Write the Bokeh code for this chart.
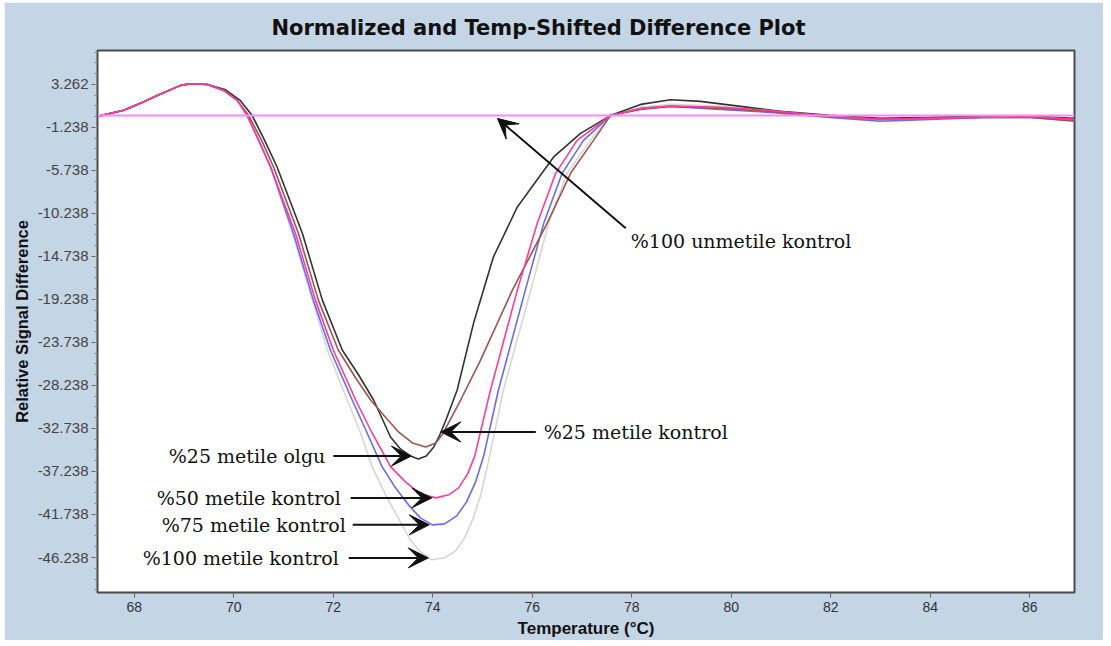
import numpy as np
from bokeh.plotting import figure
from bokeh.models import FixedTicker, Arrow, VeeHead, Label, Range1d
from bokeh.embed import file_html
from bokeh.resources import INLINE

# Temperature (°C) and relative signal difference for each sample
olgu25_T = [67.26, 67.79, 68.12, 68.46, 68.93, 69.13, 69.47, 69.82, 70.13, 70.37, 70.62, 70.87,
            71.38, 71.78, 72.18, 72.51, 72.81, 73.00, 73.15, 73.35, 73.55, 73.71, 73.87, 74.02,
            74.14, 74.28, 74.49, 74.82, 75.22, 75.70, 76.43, 76.97, 77.57, 78.18, 78.78, 79.38,
            80.19, 80.99, 81.98, 83.00, 84.00, 85.01, 86.02, 86.90]
olgu25_V = [-0.08, 0.55, 1.28, 2.11, 3.16, 3.33, 3.26, 2.73, 1.59, 0.00, -2.59, -5.38,
            -12.34, -19.31, -24.53, -27.14, -29.76, -31.90, -33.63, -34.88, -35.61, -35.92, -35.61, -34.67,
            -33.42, -31.64, -28.71, -21.71, -14.78, -9.56, -4.33, -1.86, 0.00, 1.17, 1.66, 1.49,
            0.96, 0.44, 0.02, -0.29, -0.19, -0.08, -0.08, -0.29]

kontrol25_T = [67.26, 67.79, 68.12, 68.46, 68.93, 69.13, 69.47, 69.80, 70.07, 70.30, 70.56, 70.80,
               71.30, 71.70, 72.10, 72.45, 72.75, 73.01, 73.31, 73.59, 73.86, 74.06, 74.20, 74.56,
               74.96, 75.60, 76.30, 76.77, 77.23, 77.57, 78.18, 78.78, 79.79, 80.79, 81.98, 83.00,
               84.00, 85.01, 86.02, 86.90]
kontrol25_V = [-0.08, 0.55, 1.28, 2.11, 3.16, 3.33, 3.26, 2.63, 1.59, 0.00, -2.59, -5.38,
               -12.34, -19.31, -24.53, -27.46, -29.76, -31.33, -33.10, -34.25, -34.67, -34.25, -33.31, -29.76,
               -25.58, -18.26, -11.26, -6.04, -2.59, 0.00, 0.65, 0.96, 0.75, 0.44, -0.08, -0.40,
               -0.29, -0.19, -0.19, -0.60]

kontrol50_T = [67.26, 67.79, 68.12, 68.46, 68.93, 69.13, 69.47, 69.80, 70.07, 70.27, 70.50, 70.74,
               71.24, 71.64, 72.00, 72.45, 72.78, 73.15, 73.45, 73.75, 74.06, 74.32, 74.52, 74.70,
               74.84, 75.16, 75.70, 76.10, 76.47, 76.90, 77.57, 78.18, 78.78, 79.79, 80.79, 81.98,
               83.00, 84.00, 85.01, 86.02, 86.90]
kontrol50_V = [-0.08, 0.55, 1.28, 2.11, 3.16, 3.33, 3.26, 2.63, 1.59, 0.00, -2.59, -5.38,
               -12.34, -19.31, -24.53, -29.76, -33.21, -36.73, -38.33, -39.58, -40.00, -39.68, -38.95, -37.49,
               -35.68, -28.71, -18.26, -11.26, -6.04, -2.59, 0.00, 0.75, 1.01, 0.86, 0.54, -0.08,
               -0.40, -0.29, -0.19, -0.08, -0.40]

kontrol75_T = [67.26, 67.79, 68.12, 68.46, 68.93, 69.13, 69.47, 69.80, 70.07, 70.27, 70.50, 70.74,
               71.20, 71.60, 71.94, 72.38, 72.68, 72.98, 73.25, 73.51, 73.75, 73.99, 74.24, 74.48,
               74.68, 74.86, 75.02, 75.32, 75.86, 76.23, 76.60, 77.03, 77.57, 78.18, 78.78, 79.79,
               80.79, 81.98, 83.00, 84.00, 85.01, 86.02, 86.90]
kontrol75_V = [-0.08, 0.55, 1.28, 2.11, 3.16, 3.33, 3.26, 2.63, 1.59, 0.00, -2.59, -5.38,
               -12.34, -19.31, -24.53, -29.76, -33.21, -36.73, -38.95, -40.73, -42.09, -42.82, -42.72, -41.88,
               -40.42, -38.33, -35.68, -28.71, -18.26, -11.26, -6.04, -2.59, 0.00, 0.75, 0.96, 0.65,
               0.33, -0.19, -0.60, -0.40, -0.19, -0.19, -0.50]

kontrol100_T = [67.26, 67.79, 68.12, 68.46, 68.93, 69.13, 69.47, 69.80, 70.07, 70.27, 70.50, 70.74,
                71.18, 71.58, 71.88, 72.28, 72.55, 72.78, 73.05, 73.35, 73.55, 73.75, 73.99, 74.24,
                74.46, 74.64, 74.80, 74.96, 75.10, 75.42, 75.97, 76.33, 76.70, 77.17, 77.57, 78.18,
                78.78, 79.79, 80.79, 81.98, 83.00, 84.00, 85.01, 86.02, 86.90]
kontrol100_V = [-0.08, 0.55, 1.28, 2.11, 3.16, 3.33, 3.26, 2.63, 1.59, 0.00, -2.59, -5.38,
                -12.34, -19.31, -24.53, -29.76, -33.21, -36.73, -39.68, -42.51, -44.39, -45.64, -46.48, -46.27,
                -45.54, -44.18, -42.30, -39.79, -36.65, -28.71, -18.26, -11.26, -6.04, -2.59, 0.00, 0.86,
                1.17, 0.96, 0.54, -0.08, -0.40, -0.29, -0.19, -0.08, -0.40]

# Unmethylated reference (the baseline every sample is subtracted from)
unmetile100_T = [67.26, 86.90]
unmetile100_V = [0.0, 0.0]

x_ticks = [68, 70, 72, 74, 76, 78, 80, 82, 84, 86]
y_ticks = [3.262, -1.238, -5.738, -10.238, -14.738, -19.238, -23.738,
           -28.238, -32.738, -37.238, -41.738, -46.238]
y_tick_labels = ["3.262", "-1.238", "-5.738", "-10.238", "-14.738", "-19.238", "-23.738",
                 "-28.238", "-32.738", "-37.238", "-41.738", "-46.238"]

PANEL = "#C4D5E6"

p = figure(width=1099, height=638,
           x_range=Range1d(67.26, 86.9), y_range=Range1d(-49.9, 6.81),
           output_backend="svg", toolbar_location=None,
           min_border_left=93, min_border_right=29, min_border_top=48, min_border_bottom=48,
           background_fill_color="white", border_fill_color=PANEL,
           outline_line_color="#4a4a4a", outline_line_width=2)
p.margin = (2, 8, 6, 4)
p.grid.visible = False

p.title.text = "Normalized and Temp-Shifted Difference Plot"
p.title.align = "left"
p.title.offset = 174
p.title.text_font = "DejaVu Sans"
p.title.text_font_size = "21px"
p.title.text_font_style = "bold"
p.title.text_color = "#111111"
p.title.standoff = 21

# x axis
p.xaxis.ticker = FixedTicker(ticks=x_ticks)
p.xaxis.axis_label = "Temperature (\u00b0C)"
p.xaxis.axis_label_text_font = "Liberation Sans"
p.xaxis.axis_label_text_font_size = "17px"
p.xaxis.axis_label_text_font_style = "bold"
p.xaxis.axis_label_text_color = "#111111"
p.xaxis.axis_label_standoff = 4
p.xaxis.major_label_text_font = "Liberation Sans"
p.xaxis.major_label_text_font_size = "14px"
p.xaxis.major_label_text_color = "#333333"
p.xaxis.major_label_standoff = 4
p.xaxis.major_tick_in = 0
p.xaxis.major_tick_out = 5
p.xaxis.minor_tick_out = 0
p.xaxis.axis_line_color = "#4a4a4a"
p.xaxis.major_tick_line_color = "#666666"

# y axis
y_minor = [3.262 + 1.125 * k for k in range(-49, 4) if -49.9 < 3.262 + 1.125 * k < 6.81]
p.yaxis.ticker = FixedTicker(ticks=y_ticks, minor_ticks=y_minor)
p.yaxis.major_label_overrides = {t: s for t, s in zip(y_ticks, y_tick_labels)}
p.yaxis.axis_label = "Relative Signal Difference"
p.yaxis.axis_label_text_font = "Liberation Sans"
p.yaxis.axis_label_text_font_size = "16.5px"
p.yaxis.axis_label_text_font_style = "bold"
p.yaxis.axis_label_text_color = "#111111"
p.yaxis.axis_label_standoff = 4
p.yaxis.major_label_text_font = "Liberation Sans"
p.yaxis.major_label_text_font_size = "15px"
p.yaxis.major_label_text_color = "#444444"
p.yaxis.major_label_standoff = 3
p.yaxis.major_tick_in = 0
p.yaxis.major_tick_out = 6
p.yaxis.minor_tick_in = 0
p.yaxis.minor_tick_out = 3
p.yaxis.axis_line_color = "#4a4a4a"
p.yaxis.major_tick_line_color = "#666666"
p.yaxis.minor_tick_line_color = "#888888"

# melt-difference curves
p.line(kontrol100_T, kontrol100_V, line_color="#D6D6D6", line_width=1.6)
p.line(kontrol75_T, kontrol75_V, line_color="#6A6AF2", line_width=1.6)
p.line(olgu25_T, olgu25_V, line_color="#333333", line_width=1.6)
p.line(kontrol25_T, kontrol25_V, line_color="#A0544E", line_width=1.6)
p.line(kontrol50_T, kontrol50_V, line_color="#FF3C9B", line_width=1.6)
p.line(unmetile100_T, unmetile100_V, line_color="#FF88FF", line_width=2)

SERIF = "DejaVu Serif"


def min_point(T, V):
    i = int(np.argmin(V))
    return T[i], V[i]


def annotate(text, tx, ty, tail_x, tip_x, tip_y, align="right", tail_y=None):
    if tail_y is None:
        tail_y = ty
    p.add_layout(Arrow(end=VeeHead(size=20, fill_color="#111111", line_color="#111111"),
                       x_start=tail_x, y_start=tail_y, x_end=tip_x, y_end=tip_y,
                       line_color="#111111", line_width=2))
    p.add_layout(Label(x=tx, y=ty, text=text, text_font=SERIF, text_font_size="19px",
                       text_color="#111111", text_align=align, text_baseline="middle"))


mx, my = min_point(olgu25_T, olgu25_V)
annotate("%25 metile olgu", 71.84, my + 0.3, 72.00, mx - 0.14, my + 0.3)
mx, my = min_point(kontrol50_T, kontrol50_V)
annotate("%50 metile kontrol", 72.15, my, 72.35, mx - 0.08, my)
mx, my = min_point(kontrol75_T, kontrol75_V)
annotate("%75 metile kontrol", 72.25, my, 72.39, mx - 0.06, my)
mx, my = min_point(kontrol100_T, kontrol100_V)
annotate("%100 metile kontrol", 72.11, my + 0.2, 72.31, mx - 0.08, my + 0.2)
annotate("%25 metile kontrol", 76.23, -33.1, 76.07, 74.16, -33.1, align="left")
annotate("%100 unmetile kontrol", 77.98, -13.14, 77.88, 75.30, -0.3, align="left", tail_y=-11.79)

open("out.html", "w").write(file_html(p, INLINE))
